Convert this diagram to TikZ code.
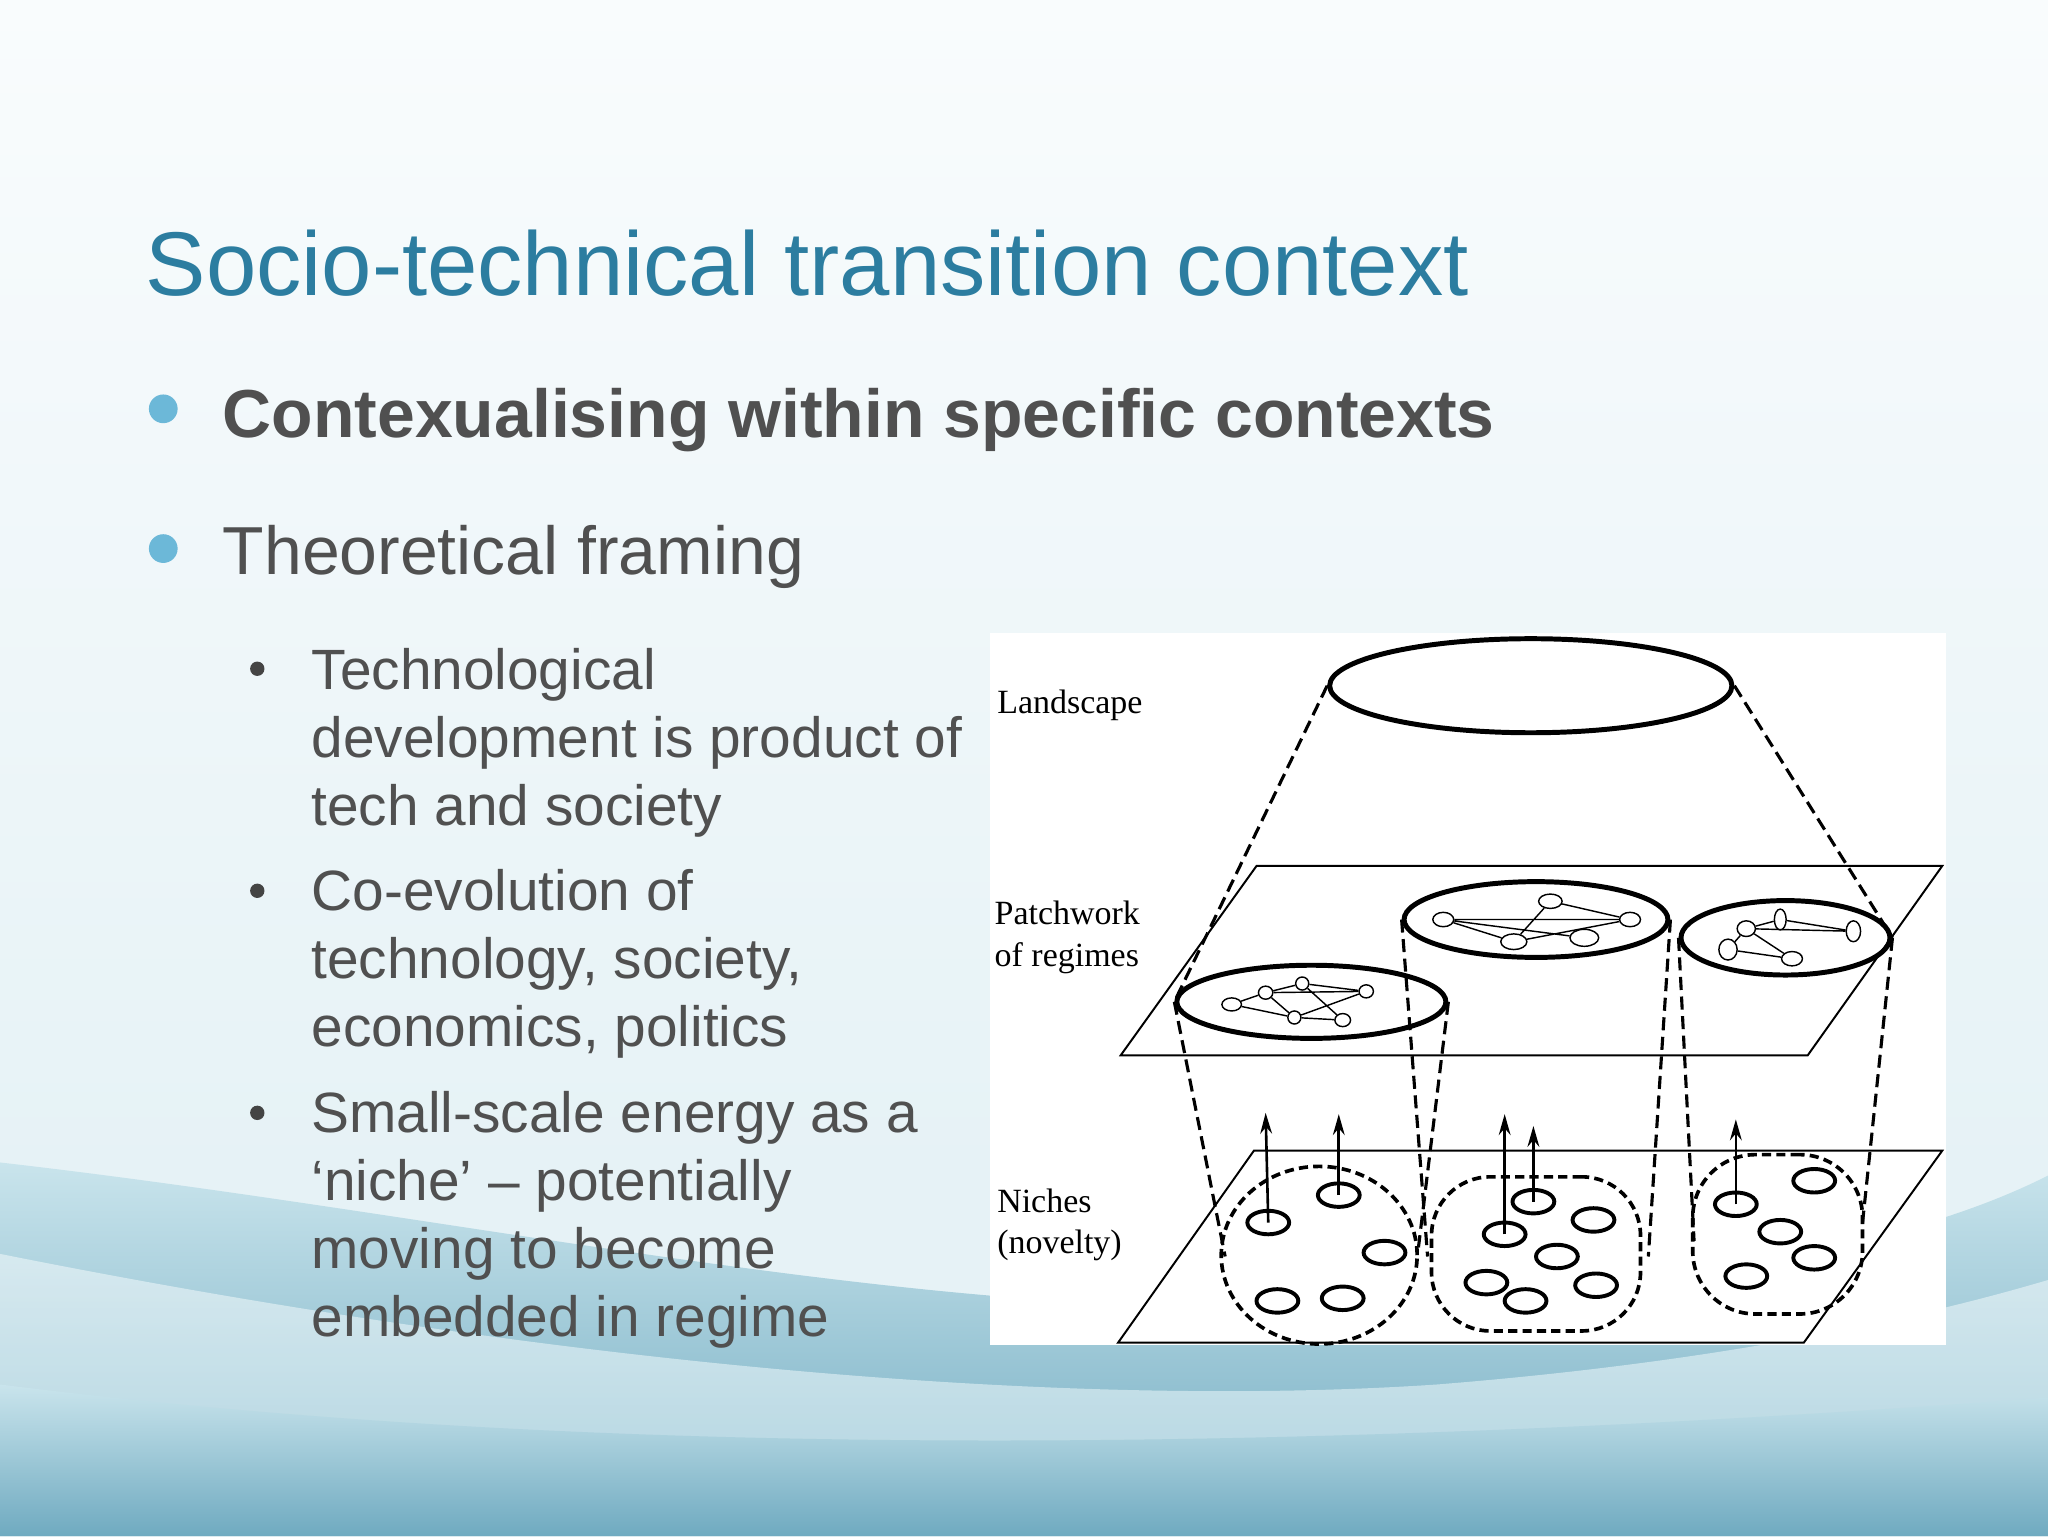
\documentclass[tikz,border=0pt]{standalone}
\usepackage{fontspec}
\setmainfont{Liberation Sans}
\newfontfamily\serifdia{Liberation Serif}
\usetikzlibrary{shapes.geometric,arrows.meta}
\definecolor{titleblue}{HTML}{2C7DA0}
\definecolor{bodygray}{HTML}{505050}
\definecolor{dotblue}{HTML}{6CB8D8}
\definecolor{bgtop}{HTML}{F9FCFD}
\definecolor{bgmid}{HTML}{E6F2F6}
\definecolor{wavetop}{HTML}{C9E4EC}
\definecolor{wavebot}{HTML}{6FAAC0}
\begin{document}
\begin{tikzpicture}[x=1pt,y=-1pt,
  body/.style={anchor=base west,text=bodygray,font=\fontsize{43.5}{52}\selectfont},
  lbl/.style={anchor=base west,font=\serifdia\fontsize{26}{32}\selectfont},
  regime/.style={draw,ellipse,line width=3.8pt,inner sep=0pt},
  net/.style={draw,ellipse,line width=1.1pt,minimum width=15pt,minimum height=10pt,inner sep=0pt},
  nich/.style={draw,ellipse,line width=3pt,minimum width=32pt,minimum height=18pt,inner sep=0pt},
  cyl/.style={line width=2.4pt,dash pattern=on 10pt off 5pt},
  blob/.style={draw,line width=2.8pt,dash pattern=on 7pt off 4pt},
  plane/.style={line width=1.5pt},
  up/.style={-{Stealth[length=16pt,width=9pt]},line width=2pt}]
\useasboundingbox (0,0) rectangle (1568,1176);
% background
\shade[top color=bgtop,bottom color=bgmid] (0,0) rectangle (1568,900);
\fill[bgmid] (0,899) rectangle (1568,1176);
\shade[top color=wavetop,bottom color=wavebot]
  (0,890) .. controls (350,930) and (700,1010) .. (1000,1000)
  .. controls (1250,990) and (1450,960) .. (1568,900) -- (1568,1176) -- (0,1176) -- cycle;
\shade[top color=bgmid,bottom color=wavetop,opacity=0.7]
  (0,960) .. controls (400,1040) and (800,1080) .. (1100,1060)
  .. controls (1350,1040) and (1500,1000) .. (1568,980) -- (1568,1176) -- (0,1176) -- cycle;
\shade[top color=wavetop,bottom color=wavebot]
  (0,1060) .. controls (400,1110) and (900,1120) .. (1568,1070) -- (1568,1176) -- (0,1176) -- cycle;
% title & bullets
\node[anchor=base west,text=titleblue,font=\fontsize{69.3}{84}\selectfont] (title) at (108,226) {Socio-technical transition context};
\fill[dotblue] (125,313) circle (11);
\node[body,font=\bfseries\fontsize{52}{60}\selectfont] (b1) at (167,335) {Contexualising within specific contexts};
\fill[dotblue] (125,420) circle (11);
\node[body,font=\fontsize{52}{60}\selectfont] (b2) at (167,440) {Theoretical framing};
\foreach \y in {512,682,852} \fill[bodygray!85!black] (197,\y) circle (5.5);
\node[body] (s1a) at (235,528) {Technological};
\node[body] (s1b) at (235,580) {development is product of};
\node[body] (s1c) at (235,632) {tech and society};
\node[body] (s2a) at (235,697) {Co-evolution of};
\node[body] (s2b) at (235,749) {technology, society,};
\node[body] (s2c) at (235,801) {economics, politics};
\node[body] (s3a) at (235,867) {Small-scale energy as a};
\node[body] (s3b) at (235,919) {‘niche’ – potentially};
\node[body] (s3c) at (235,971) {moving to become};
\node[body] (s3d) at (235,1023) {embedded in regime};
% diagram panel
\fill[white] (758,485) rectangle (1490,1030);
\node[lbl] (landl) at (760,546) {Landscape};
\node[lbl] (patl) at (758,708) {Patchwork};
\node[lbl] (patl2) at (758,740) {of regimes};
\node[lbl] (nicl) at (760,928) {Niches};
\node[lbl] (nicl2) at (760,960) {(novelty)};
% planes
\draw[plane] (962,663) -- (1487,663) -- (1384,808) -- (858,808) -- cycle;
\draw[plane] (960,881) -- (1487,881) -- (1381,1028) -- (856,1028) -- cycle;
% landscape
\node[regime,minimum width=308pt,minimum height=72pt] (land) at (1172,525) {};
% regimes
\node[regime,minimum width=206pt,minimum height=56pt] (r1) at (1004,767) {};
\node[regime,minimum width=202pt,minimum height=58pt] (r2) at (1176,704) {};
\node[regime,minimum width=160pt,minimum height=57pt] (r3) at (1367,718) {};
\draw[cyl] (land.west) -- (r1.west);
\draw[cyl] (land.east) -- (r3.east);
% niche blobs
\node[blob,ellipse,minimum width=150pt,minimum height=136pt] (n1) at (1010,961) {};
\node[blob,rectangle,rounded corners=45pt,minimum width=160pt,minimum height=118pt] (n2) at (1176,960) {};
\node[blob,rectangle,rounded corners=48pt,minimum width=130pt,minimum height=122pt] (n3) at (1361,945) {};
\coordinate (c1) at (938,962);
\coordinate (c2) at (1086,955);
\coordinate (c3) at (1093,962);
\coordinate (c4) at (1262,962);
\coordinate (c5) at (1297,950);
\coordinate (c6) at (1426,936);
\draw[cyl] (r1.west) -- (c1);
\draw[cyl] (r1.east) -- (c2);
\draw[cyl] (r2.west) -- (c3);
\draw[cyl] (r2.east) -- (c4);
\draw[cyl] (r3.west) -- (c5);
\draw[cyl] (r3.east) -- (c6);
% networks
\node[net] (a1) at (943,769) {};
\node[net,minimum width=11pt] (a2) at (969,760) {};
\node[net,minimum width=10pt] (a3) at (997,753) {};
\node[net,minimum width=11pt] (a4) at (1046,759) {};
\node[net,minimum width=10pt] (a5) at (991,779) {};
\node[net,minimum width=12pt] (a6) at (1028,781) {};
\draw[line width=1.1pt] (a1)--(a2)--(a3)--(a6) (a1)--(a5)--(a4) (a2)--(a5) (a3)--(a4) (a2)--(a4) (a5)--(a6);
\node[net,minimum width=18pt,minimum height=11pt] (b1n) at (1187,690) {};
\node[net,minimum width=16pt,minimum height=11pt] (b2n) at (1105,704) {};
\node[net,minimum width=16pt,minimum height=11pt] (b3n) at (1248,704) {};
\node[net,minimum width=20pt,minimum height=12pt] (b4n) at (1159,721) {};
\node[net,minimum width=22pt,minimum height=13pt] (b5n) at (1213,718) {};
\draw[line width=1.1pt] (b2n)--(b4n) (b2n)--(b5n) (b1n)--(b4n) (b1n)--(b3n) (b4n)--(b3n) (b2n)--(b3n);
\node[net,minimum width=14pt,minimum height=12pt] (c1n) at (1337,711) {};
\node[net,minimum width=9pt,minimum height=16pt] (c2n) at (1363,704) {};
\node[net,minimum width=11pt,minimum height=16pt] (c3n) at (1419,713) {};
\node[net,minimum width=14pt,minimum height=16pt] (c4n) at (1323,727) {};
\node[net,minimum width=16pt,minimum height=11pt] (c5n) at (1372,734) {};
\draw[line width=1.1pt] (c1n)--(c3n) (c2n)--(c3n) (c1n)--(c5n) (c1n)--(c4n) (c4n)--(c5n) (c1n)--(c2n);
% niche circles
\node[nich] (p1) at (971,936) {};
\node[nich] (p2) at (1025,915) {};
\node[nich] (p3) at (1060,959) {};
\node[nich] (p4) at (978,996) {};
\node[nich] (p5) at (1028,994) {};
\node[nich] (q1) at (1174,920) {};
\node[nich] (q2) at (1220,934) {};
\node[nich] (q3) at (1152,945) {};
\node[nich] (q4) at (1192,962) {};
\node[nich] (q5) at (1138,982) {};
\node[nich] (q6) at (1168,996) {};
\node[nich] (q7) at (1222,984) {};
\node[nich] (t1) at (1389,904) {};
\node[nich] (t2) at (1329,922) {};
\node[nich] (t3) at (1363,943) {};
\node[nich] (t4) at (1389,963) {};
\node[nich] (t5) at (1337,977) {};
% arrows
\coordinate (u1) at (969,852);
\coordinate (u2) at (1025,853);
\coordinate (u3) at (1152,853);
\coordinate (u4) at (1174,862);
\coordinate (u5) at (1329,857);
\draw[up] (p1.center) -- (u1);
\draw[up] (p2.center) -- (u2);
\draw[up] (q3.center) -- (u3);
\draw[up] (q1.center) -- (u4);
\draw[up] (t2.center) -- (u5);
\end{tikzpicture}
\end{document}
